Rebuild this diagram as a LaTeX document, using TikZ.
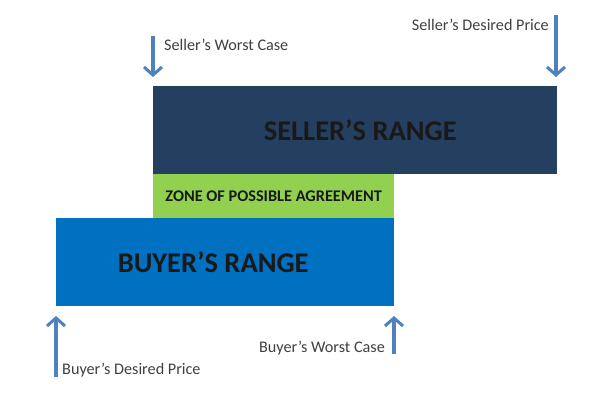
\documentclass[tikz,border=0pt]{standalone}
\usepackage{fontspec}
\setmainfont{Carlito}
\usetikzlibrary{arrows.meta}
\definecolor{sellerblue}{HTML}{243F60}
\definecolor{buyerblue}{HTML}{0070C0}
\definecolor{zopagreen}{HTML}{92D050}
\definecolor{arrowblue}{HTML}{4F81BD}
\tikzset{
	rangebox/.style={anchor=north west, inner sep=0pt, text=black!90, font=\bfseries\fontsize{28.5}{28.5}\selectfont},
	tag/.style={inner sep=0pt, text=black!75, font=\fontsize{16.2}{16.2}\selectfont},
	price/.style={arrowblue, line width=3.2pt, -{Straight Barb[length=8pt,width=18pt,line width=3pt]}}
}
\begin{document}
\begin{tikzpicture}[x=1pt, y=-1pt]
	\useasboundingbox (0, 0) rectangle (600, 400);
	\node[rangebox, fill=sellerblue, minimum width=404pt, minimum height=88pt] (seller) at (153, 86) {\hspace*{10pt}SELLER'S RANGE};
	\node[rangebox, fill=zopagreen, minimum width=241pt, minimum height=44pt, font=\bfseries\fontsize{16.3}{16.3}\selectfont] (zopa) at (153, 174) {ZONE OF POSSIBLE AGREEMENT};
	\node[rangebox, fill=buyerblue, minimum width=338pt, minimum height=88pt] (buyer) at (56, 218) {\hspace*{-24pt}BUYER'S RANGE};
	% arrow ends
	\coordinate (swtop) at (153, 36);
	\coordinate (swtip) at (153, 77);
	\coordinate (sdtop) at (556, 15);
	\coordinate (sdtip) at (556, 77);
	\coordinate (bdbot) at (56, 377);
	\coordinate (bdtip) at (56, 316);
	\coordinate (bwbot) at (394, 354);
	\coordinate (bwtip) at (394, 316);
	\draw[price] (swtop) -- (swtip);
	\draw[price] (sdtop) -- (sdtip);
	\draw[price] (bdbot) -- (bdtip);
	\draw[price] (bwbot) -- (bwtip);
	\node[tag, anchor=west] (swlabel) at (164, 45) {Seller’s Worst Case};
	\node[tag, anchor=east] (sdlabel) at (549, 25) {Seller’s Desired Price};
	\node[tag, anchor=west] (bdlabel) at (62, 370) {Buyer’s Desired Price};
	\node[tag, anchor=east] (bwlabel) at (385, 348) {Buyer’s Worst Case};
\end{tikzpicture}
\end{document}
